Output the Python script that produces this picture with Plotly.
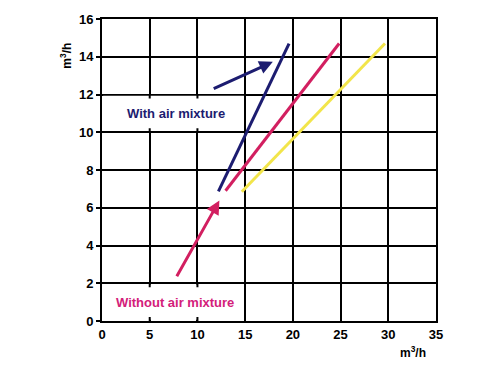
import plotly.graph_objects as go

# Data
blue_x = [12.2, 19.6]
blue_y = [6.87, 14.7]
pink_x = [12.95, 24.85]
pink_y = [6.9, 14.7]
yellow_x = [14.65, 29.65]
yellow_y = [6.85, 14.7]

blue_arrow = [11.55, 12.28, 17.9, 13.73]   # x0, y0, x1, y1
pink_arrow = [7.75, 2.29, 12.3, 6.38]

x_ticks = [0, 5, 10, 15, 20, 25, 30, 35]
y_ticks = [0, 2, 4, 6, 8, 10, 12, 14, 16]

BLUE = "#1c1c70"
PINK = "#d21f60"
YELLOW = "#f2e54a"
TEXT_PINK = "#d3207a"

fig = go.Figure()
for xs, ys, c in [(blue_x, blue_y, BLUE), (pink_x, pink_y, PINK), (yellow_x, yellow_y, YELLOW)]:
    fig.add_trace(go.Scatter(x=xs, y=ys, mode="lines", line=dict(color=c, width=3),
                             showlegend=False, hoverinfo="skip"))

shapes = []
# white boxes covering grid behind labels
for (y0, y1) in [(10, 12), (0, 2)]:
    shapes.append(dict(type="rect", xref="x", yref="y", x0=0.12, x1=14.88, y0=y0 + 0.06, y1=y1 - 0.06,
                       fillcolor="white", line=dict(width=0), layer="between"))
    for xv in [5, 10]:
        shapes.append(dict(type="line", xref="x", yref="y", ysizemode="pixel", yanchor=y1,
                           x0=xv, x1=xv, y0=0, y1=-4, line=dict(color="black", width=2), layer="between"))
        shapes.append(dict(type="line", xref="x", yref="y", ysizemode="pixel", yanchor=y0,
                           x0=xv, x1=xv, y0=0, y1=4, line=dict(color="black", width=2), layer="between"))

L, R, T, B = 102, 64, 16, 54
pw, ph = 500 - L - R, 375 - T - B

def px(x, y):
    return (x - L) / pw, 1 - (y - T) / ph

ylab = px(66, 53)
xlab = px(413, 352)

annotations = [
    dict(x=blue_arrow[2], y=blue_arrow[3], ax=blue_arrow[0], ay=blue_arrow[1], xref="x", yref="y",
         axref="x", ayref="y", showarrow=True, arrowhead=2, arrowsize=0.9, arrowwidth=3,
         arrowcolor=BLUE, text=""),
    dict(x=pink_arrow[2], y=pink_arrow[3], ax=pink_arrow[0], ay=pink_arrow[1], xref="x", yref="y",
         axref="x", ayref="y", showarrow=True, arrowhead=2, arrowsize=0.9, arrowwidth=3,
         arrowcolor=PINK, text=""),
    dict(x=7.75, y=11.0, xref="x", yref="y", text="With air mixture", showarrow=False,
         xanchor="center", yanchor="middle",
         font=dict(family="Liberation Sans", size=13, color=BLUE, weight="bold")),
    dict(x=7.6, y=1.0, xref="x", yref="y", text="Without air mixture", showarrow=False,
         xanchor="center", yanchor="middle",
         font=dict(family="Liberation Sans", size=13, color=TEXT_PINK, weight="bold")),
    dict(x=ylab[0], y=ylab[1], xref="paper", yref="paper", text="m<sup>3</sup>/h", showarrow=False,
         xanchor="center", yanchor="middle", textangle=-90,
         font=dict(family="Liberation Sans", size=12, color="black", weight="bold")),
    dict(x=xlab[0], y=xlab[1], xref="paper", yref="paper", text="m<sup>3</sup>/h", showarrow=False,
         xanchor="center", yanchor="middle",
         font=dict(family="Liberation Sans", size=12, color="black", weight="bold")),
]

tickfont = dict(family="Liberation Sans", size=13, color="black", weight="bold")
fig.update_layout(
    width=500, height=375,
    margin=dict(l=L, r=R, t=T, b=B),
    paper_bgcolor="white", plot_bgcolor="white",
    shapes=shapes, annotations=annotations,
    xaxis=dict(range=[0, 35], tickvals=x_ticks, showgrid=True, gridcolor="black", gridwidth=2,
               showline=True, linecolor="black", linewidth=2, mirror=True, ticks="",
               tickfont=tickfont, zeroline=False, fixedrange=True),
    yaxis=dict(range=[0, 16], tickvals=y_ticks, showgrid=True, gridcolor="black", gridwidth=2,
               showline=True, linecolor="black", linewidth=2, mirror=True, ticks="outside",
               ticklen=4, tickwidth=2, tickcolor="black", tickfont=tickfont, zeroline=False,
               fixedrange=True),
)
fig.write_html("out.html")
